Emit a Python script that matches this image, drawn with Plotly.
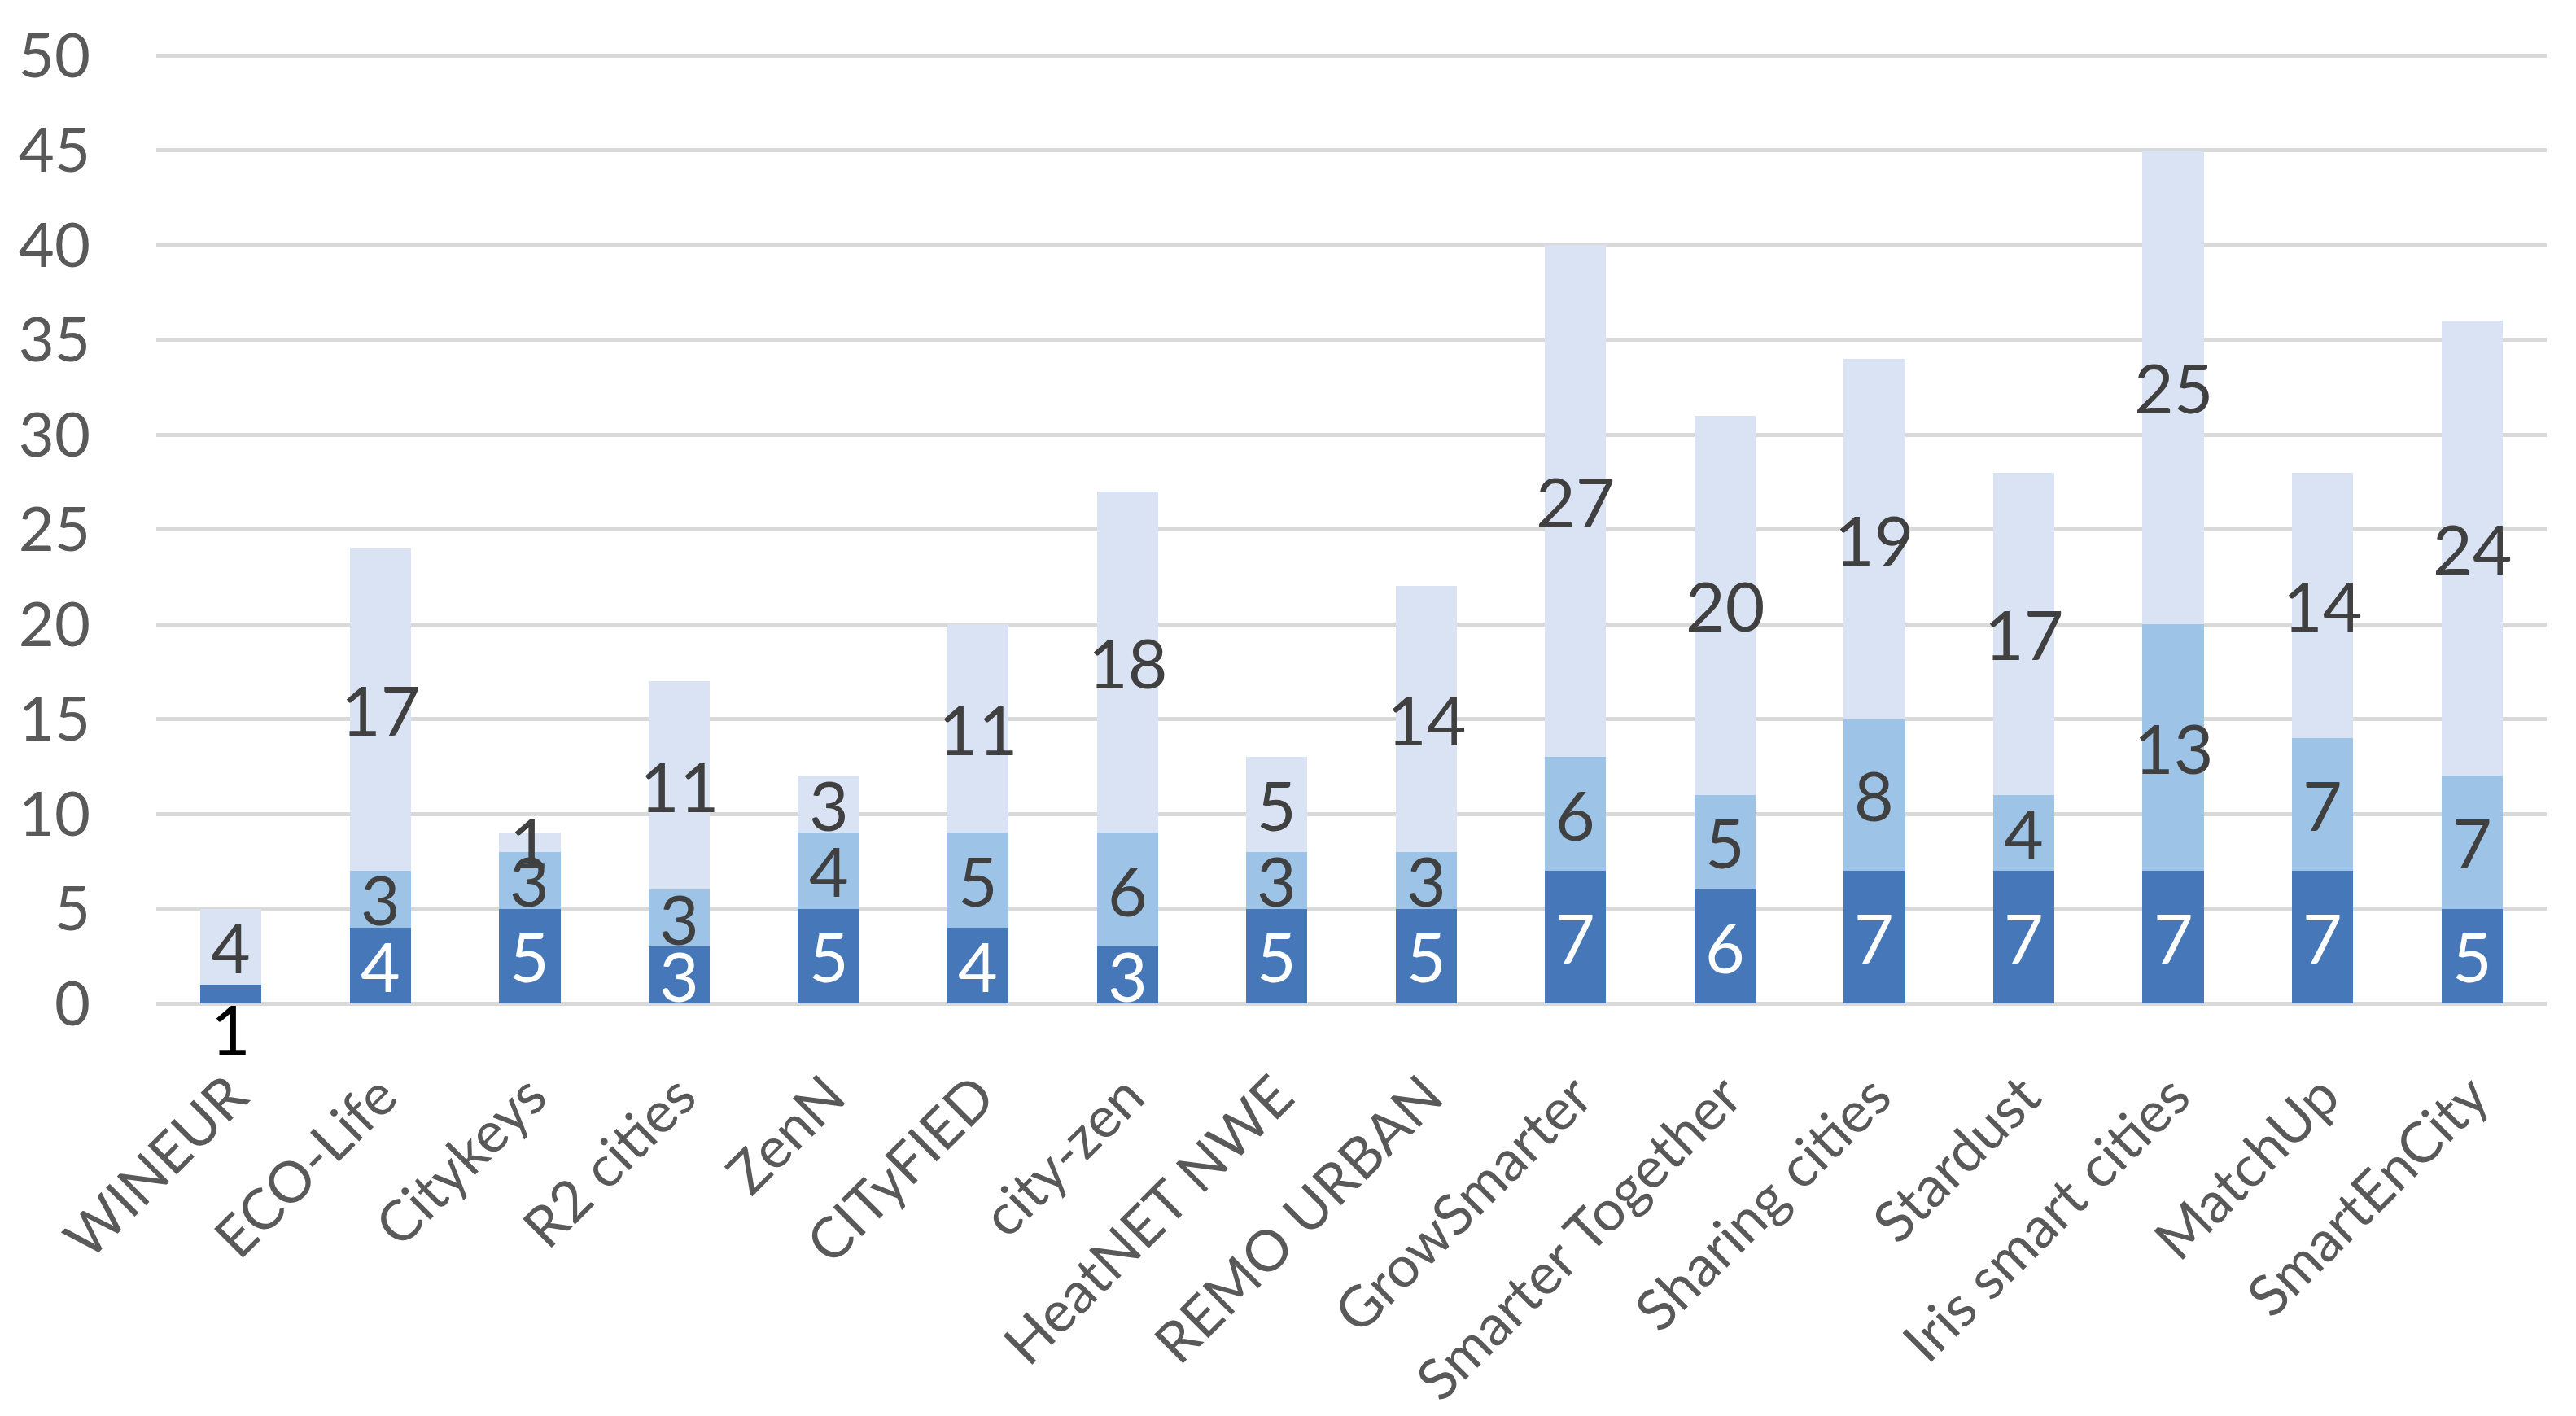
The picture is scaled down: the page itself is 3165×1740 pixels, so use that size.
import plotly.graph_objects as go

categories = ["WINEUR", "ECO-Life", "Citykeys", "R2 cities", "ZenN", "CITyFIED", "city-zen",
              "HeatNET NWE", "REMO URBAN", "GrowSmarter", "Smarter Together", "Sharing cities",
              "Stardust", "Iris smart cities", "MatchUp", "SmartEnCity"]
series_bottom = [1, 4, 5, 3, 5, 4, 3, 5, 5, 7, 6, 7, 7, 7, 7, 5]
series_middle = [0, 3, 3, 3, 4, 5, 6, 3, 3, 6, 5, 8, 4, 13, 7, 7]
series_top = [4, 17, 1, 11, 3, 11, 18, 5, 14, 27, 20, 19, 17, 25, 14, 24]
y_ticks = [0, 5, 10, 15, 20, 25, 30, 35, 40, 45, 50]

colors = ["#4677B8", "#9DC3E6", "#DAE3F3"]
label_colors = ["#FFFFFF", "#404040", "#404040"]
FONT = "Lato"

fig = go.Figure()
series = [series_bottom, series_middle, series_top]
for vals, col in zip(series, colors):
    fig.add_trace(go.Bar(x=categories, y=vals, marker=dict(color=col, line=dict(width=0)),
                         hoverinfo="x+y"))

annotations = []
for i, cat in enumerate(categories):
    base = 0
    for s, vals in enumerate(series):
        v = vals[i]
        if v > 0:
            if s == 0 and v < 2:
                annotations.append(dict(x=cat, y=0, text=str(v), showarrow=False,
                                        yanchor="top", yshift=22,
                                        font=dict(family=FONT, size=84, color="#000000")))
            else:
                annotations.append(dict(x=cat, y=base + v / 2, text=str(v), showarrow=False,
                                        font=dict(family=FONT, size=84, color=label_colors[s])))
        base += v

fig.update_layout(
    barmode="stack",
    bargap=0.59,
    showlegend=False,
    width=3165, height=1740,
    margin=dict(l=184, r=44, t=54, b=515),
    paper_bgcolor="white", plot_bgcolor="white",
    annotations=annotations,
    font=dict(family=FONT, color="#595959"),
)
fig.update_xaxes(tickangle=-45, tickfont=dict(family=FONT, size=70, color="#595959"),
                 showline=False, showgrid=False, ticks="", ticklabelstandoff=58)
fig.update_yaxes(range=[0, 50.05], tickvals=y_ticks, tickfont=dict(family=FONT, size=76, color="#595959"),
                 showgrid=True, gridcolor="#D9D9D9", gridwidth=5, zeroline=True,
                 zerolinecolor="#D9D9D9", zerolinewidth=5, showline=False, ticks="",
                 ticklabelstandoff=80)

fig.write_html("out.html")
